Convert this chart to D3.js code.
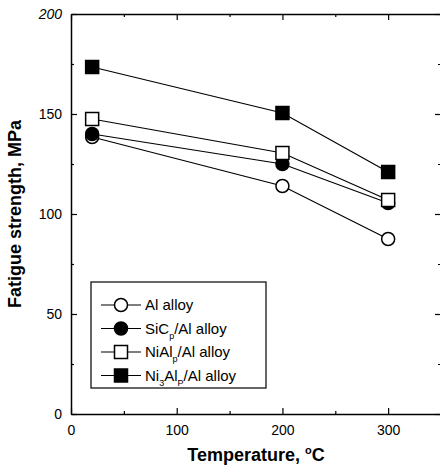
<!DOCTYPE html>
<html>
<head>
<meta charset="utf-8">
<script src="https://cdn.jsdelivr.net/npm/d3@7"></script>
<style>
	body { margin: 0; background: #fff; }
	svg { font-family: "Liberation Sans", Arial, sans-serif; }
	.tick text { font-size: 14px; fill: #000; }
	.title { font-size: 18px; font-weight: bold; }
	.legend text { font-size: 15px; }
</style>
</head>
<body>
<script>

var temps = [20, 200, 300];

var series = [
	{name: "Al alloy", sub: null, marker: "circle", fill: "#fff", values: [138.5, 114, 87.5]},
	{name: "SiC", sub: "p", rest: "/Al alloy", marker: "circle", fill: "#000", values: [140, 125, 105.5]},
	{name: "NiAl", sub: "p", rest: "/Al alloy", marker: "square", fill: "#fff", values: [147.5, 130.5, 107]},
	{name: "Ni", sub: "3", mid: "Al", sub2: "P", rest: "/Al alloy", marker: "square", fill: "#000", values: [173.5, 150.5, 121]}
];

var xTicks = [0, 100, 200, 300];
var yTicks = [0, 50, 100, 150, 200];

var W = 440, H = 475,
	mLeft = 71, mTop = 14, mRight = 441, mBottom = 414;

var svg = d3.select("body").append("svg")
	.attr("width", W)
	.attr("height", H);

var x = d3.scaleLinear().domain([0, 350]).range([mLeft, mRight]);
var y = d3.scaleLinear().domain([0, 200]).range([mBottom, mTop]);

// axes, ticks inward
function styleAxis(g) {
	g.select(".domain").attr("stroke", "#000").attr("stroke-width", 1.5);
	g.selectAll(".tick line").attr("stroke", "#000").attr("stroke-width", 1.2);
}

function minor(axis, pos, vals) {
	svg.append("g")
		.attr("transform", pos)
		.call(axis.tickValues(vals).tickSize(-3).tickFormat(""))
		.call(styleAxis)
		.select(".domain").remove();
}

svg.append("g")
	.attr("transform", "translate(0," + mBottom + ")")
	.call(d3.axisBottom(x).tickValues(xTicks).tickSizeInner(-6).tickSizeOuter(0).tickPadding(11))
	.call(styleAxis);
minor(d3.axisBottom(x), "translate(0," + mBottom + ")", [50, 150, 250]);

svg.append("g")
	.attr("transform", "translate(0," + mTop + ")")
	.call(d3.axisTop(x).tickValues(xTicks).tickSizeInner(-6).tickSizeOuter(0).tickFormat(""))
	.call(styleAxis);
minor(d3.axisTop(x), "translate(0," + mTop + ")", [50, 150, 250]);

svg.append("g")
	.attr("class", "yaxis")
	.attr("transform", "translate(" + mLeft + ",0)")
	.call(d3.axisLeft(y).tickValues(yTicks).tickSizeInner(-6).tickSizeOuter(0).tickPadding(9))
	.call(styleAxis);
minor(d3.axisLeft(y), "translate(" + mLeft + ",0)", [25, 75, 125, 175]);

svg.append("g")
	.attr("transform", "translate(" + mRight + ",0)")
	.call(d3.axisRight(y).tickValues(yTicks).tickSizeInner(-6).tickSizeOuter(0).tickFormat(""))
	.call(styleAxis);
minor(d3.axisRight(y), "translate(" + mRight + ",0)", [25, 75, 125, 175]);

svg.selectAll(".tick text").attr("fill", "#000");
svg.select(".yaxis").selectAll(".tick text")
	.filter(function (d) { return d == 200; })
	.attr("font-style", "italic");

// axis titles
var xt = svg.append("text")
	.attr("class", "title")
	.attr("x", (mLeft + mRight) / 2)
	.attr("y", 461)
	.attr("text-anchor", "middle");
xt.append("tspan").text("Temperature, ");
xt.append("tspan").attr("font-size", "11px").attr("dy", -7).text("o");
xt.append("tspan").attr("dy", 7).text("C");

svg.append("text")
	.attr("class", "title")
	.attr("text-anchor", "middle")
	.attr("transform", "translate(21," + (mTop + mBottom) / 2 + ") rotate(-90)")
	.text("Fatigue strength, MPa");

// lines and markers
var line = d3.line()
	.x(function (d, i) { return x(temps[i]); })
	.y(function (d) { return y(d); });

function drawMarker(g, s, cx, cy) {
	if (s.marker == "circle") {
		g.append("circle")
			.attr("cx", cx).attr("cy", cy).attr("r", 6.5)
			.attr("fill", s.fill).attr("stroke", "#000").attr("stroke-width", 1.5);
	} else {
		g.append("rect")
			.attr("x", cx - 6.5).attr("y", cy - 6.5)
			.attr("width", 13).attr("height", 13)
			.attr("fill", s.fill).attr("stroke", "#000").attr("stroke-width", 1.5);
	}
}

series.forEach(function (s) {
	svg.append("path")
		.datum(s.values)
		.attr("d", line)
		.attr("fill", "none")
		.attr("stroke", "#000")
		.attr("stroke-width", 1.2);
});

series.forEach(function (s) {
	var g = svg.append("g");
	s.values.forEach(function (v, i) {
		drawMarker(g, s, x(temps[i]), y(v));
	});
});

// legend
var legend = svg.append("g").attr("class", "legend");
legend.append("rect")
	.attr("x", 91).attr("y", 282)
	.attr("width", 175).attr("height", 106)
	.attr("fill", "#fff").attr("stroke", "#000").attr("stroke-width", 1.2);

series.forEach(function (s, i) {
	var ly = 305 + i * 23.5;
	legend.append("line")
		.attr("x1", 101).attr("x2", 141)
		.attr("y1", ly).attr("y2", ly)
		.attr("stroke", "#000").attr("stroke-width", 1.2);
	drawMarker(legend, s, 121, ly);
	var t = legend.append("text")
		.attr("x", 145).attr("y", ly + 5);
	t.append("tspan").text(s.name);
	if (s.sub) {
		t.append("tspan").attr("font-size", "9px").attr("dy", 5).text(s.sub);
		if (s.mid) {
			t.append("tspan").attr("dy", -5).text(s.mid);
			t.append("tspan").attr("font-size", "9px").attr("dy", 5).text(s.sub2);
		}
		t.append("tspan").attr("dy", -5).text(s.rest);
	}
});

</script>
</body>
</html>
